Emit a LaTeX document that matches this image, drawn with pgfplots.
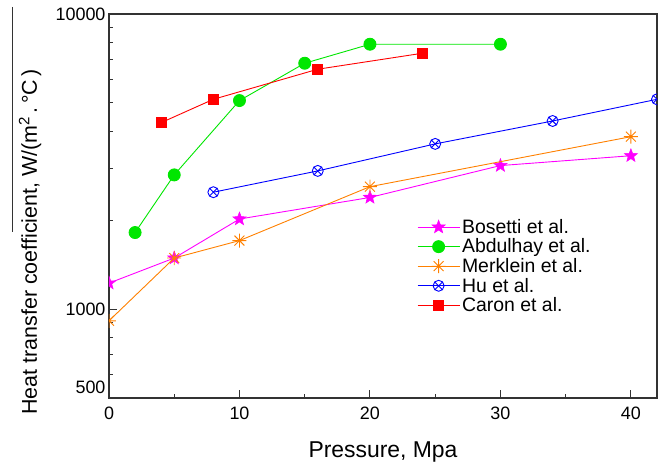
\documentclass[border=0pt]{standalone}
\usepackage{fontspec}
\setmainfont{Liberation Sans}
\usepackage{pgfplots}
\pgfplotsset{compat=1.18}

% eight-arm asterisk as in the original plot
\pgfdeclareplotmark{ast8}{%
  \pgfpathmoveto{\pgfqpoint{0pt}{\pgfplotmarksize}}\pgfpathlineto{\pgfqpoint{0pt}{-\pgfplotmarksize}}%
  \pgfpathmoveto{\pgfqpoint{\pgfplotmarksize}{0pt}}\pgfpathlineto{\pgfqpoint{-\pgfplotmarksize}{0pt}}%
  \pgfpathmoveto{\pgfqpointpolar{45}{\pgfplotmarksize}}\pgfpathlineto{\pgfqpointpolar{225}{\pgfplotmarksize}}%
  \pgfpathmoveto{\pgfqpointpolar{135}{\pgfplotmarksize}}\pgfpathlineto{\pgfqpointpolar{315}{\pgfplotmarksize}}%
  \pgfusepathqstroke}
% solid five-point star
\pgfdeclareplotmark{fstar}{%
  \pgfpathmoveto{\pgfqpointpolar{90}{\pgfplotmarksize}}%
  \pgfpathlineto{\pgfqpointpolar{126}{0.42\pgfplotmarksize}}%
  \pgfpathlineto{\pgfqpointpolar{162}{\pgfplotmarksize}}%
  \pgfpathlineto{\pgfqpointpolar{198}{0.42\pgfplotmarksize}}%
  \pgfpathlineto{\pgfqpointpolar{234}{\pgfplotmarksize}}%
  \pgfpathlineto{\pgfqpointpolar{270}{0.42\pgfplotmarksize}}%
  \pgfpathlineto{\pgfqpointpolar{306}{\pgfplotmarksize}}%
  \pgfpathlineto{\pgfqpointpolar{342}{0.42\pgfplotmarksize}}%
  \pgfpathlineto{\pgfqpointpolar{18}{\pgfplotmarksize}}%
  \pgfpathlineto{\pgfqpointpolar{54}{0.42\pgfplotmarksize}}%
  \pgfpathclose
  \pgfusepathqfillstroke}

\definecolor{cmag}{RGB}{255,0,255}
\definecolor{cgreen}{RGB}{0,230,0}
\definecolor{corange}{RGB}{255,128,0}
\definecolor{cblue}{RGB}{0,0,255}
\definecolor{cred}{RGB}{255,0,0}

\begin{document}
\begin{tikzpicture}
\begin{axis}[scale only axis, width=548bp, height=384bp,
  ymode=log, xmin=0, xmax=42, ymin=500, ymax=10000,
  /pgf/number format/assume math mode=true,
  xtick={0,10,20,30,40}, minor xtick={5,15,25,35},
  ytick={1000,10000}, yticklabels={1000,10000},
  minor ytick={600,700,800,900,2000,3000,4000,5000,6000,7000,8000,9000},
  extra y ticks={500}, extra y tick labels={500},
  extra y tick style={major tick length=0pt, yticklabel style={yshift=11bp}},
  tick align=inside, xtick pos=bottom, ytick pos=left,
  major tick length=8bp, minor tick length=4bp,
  axis line style={line width=1.2bp, black!80},
  every tick/.style={line width=1bp, black!80},
  ticklabel style={font=\fontsize{18}{21}\selectfont},
  xticklabel style={yshift=-5bp},
  xlabel={Pressure, Mpa},
  ylabel={Heat transfer coefficient, W/(m\textsuperscript{2}\,.\,°C\,)},
  xlabel style={font=\fontsize{23}{27}\selectfont, yshift=-16bp},
  ylabel style={font=\fontsize{21.5}{25}\selectfont,
    at={(axis description cs:-0.144,0.407)}, anchor=center},
  clip marker paths=true,
  every axis plot/.append style={line width=0.9bp},
  legend style={at={(axis description cs:0.562,0.471)}, anchor=north west,
    draw=none, fill=none, font=\fontsize{19.5}{22}\selectfont,
    row sep=0bp, inner sep=0pt},
  legend cell align=left,
  legend image code/.code={\draw[mark repeat=2, mark phase=2]
    plot coordinates {(0bp,0bp) (21bp,0bp) (42bp,0bp)};},
]
\addplot[cmag, mark=fstar, mark size=7bp, mark options={fill=cmag, line width=0.5bp}] coordinates {
  (0,1225) (5,1490) (10,2020) (20,2390) (30,3065) (40,3310)};
\addlegendentry{Bosetti et al.}
\addplot[cgreen, mark=*, mark size=6bp] coordinates {
  (2,1818) (5,2850) (10,5090) (15,6810) (20,7900) (30,7900)};
\addlegendentry{Abdulhay et al.}
\addplot[corange, mark=ast8, mark size=7bp] coordinates {
  (0,913) (5,1490) (10,1707) (20,2600) (40,3840)};
\addlegendentry{Merklein et al.}
\addplot[cblue, mark=otimes, mark size=5.5bp] coordinates {
  (8,2490) (16,2940) (25,3630) (34,4340) (42,5140)};
\addlegendentry{Hu et al.}
\addplot[cred, mark=square*, mark size=5bp] coordinates {
  (4,4285) (8,5140) (16,6500) (24,7360)};
\addlegendentry{Caron et al.}
\end{axis}
\draw[line width=1bp, black!80] ([shift={(-96bp,7bp)}]current axis.north west)
  -- ([shift={(-96bp,-218bp)}]current axis.north west);
\pgfresetboundingbox
\path ([shift={(-109bp,-66bp)}]current axis.south west)
  rectangle ([shift={(5bp,14bp)}]current axis.north east);
\end{tikzpicture}
\end{document}
